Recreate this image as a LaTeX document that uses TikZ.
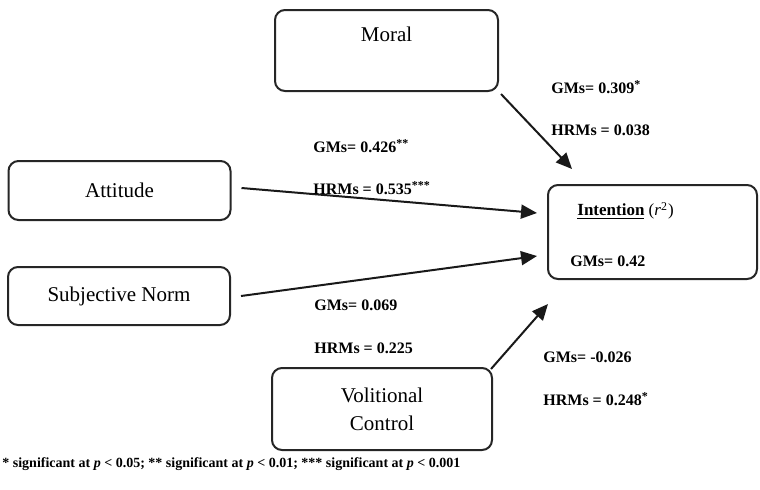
\documentclass[tikz,border=0pt]{standalone}
\usepackage{fontspec}
\setmainfont{Liberation Serif}
\usetikzlibrary{arrows.meta,calc}
\begin{document}
\begin{tikzpicture}[x=0.5pt,y=-0.5pt,
  box/.style={draw=black!85, line width=1pt, rounded corners=5pt, fill=white,
    inner sep=0pt, font=\fontsize{10.5}{14}\selectfont},
  coef/.style={anchor=west, inner sep=0pt, font=\bfseries\fontsize{8}{9}\selectfont},
  link/.style={draw=black!90, line width=1pt, -{Triangle[length=8pt,width=7pt]}},
]
\useasboundingbox (0,0) rectangle (760,489);

% constructs
\node[box, minimum width=111.5pt, anchor=north, inner ysep=8.5pt,
      text height=7pt, text depth=16.5pt] (moral) at (386.5,9) {Moral};
\node[box, minimum width=111pt, minimum height=29.5pt] (att) at (119.5,190.5) {Attitude};
\node[box, minimum width=111pt, minimum height=29pt] (sn) at (119,296) {Subjective Norm};
\node[box, minimum width=110pt, minimum height=41pt, align=center] (vol) at (382,409)
  {Volitional\\Control};
\node[box, minimum width=104.5pt, minimum height=47pt] (int) at (652.5,232) {};

% outcome box contents
\node[anchor=west, inner sep=0pt, font=\fontsize{8.5}{10}\selectfont] (inttitle) at (577,211)
  {\textbf{\underline{Intention}} (\textit{r}\textsuperscript{2})};
\node[coef] (intgm) at (570,261) {GMs= 0.42};

% paths
\draw[link] ($(moral.south east)+(2,2)$) -- ($(int.north west)+(25,-15)$);
\draw[link] ($(att.east)+(10,-2.5)$) -- ($(int.west)+(-10,-19)$);
\draw[link] ($(sn.east)+(10,0)$) -- ($(int.west)+(-10,24)$);
\draw[link] ($(vol.north east)+(-2,2)$) -- ($(int.south west)+(1,24)$);

% path coefficients
\node[coef] (mgm) at (551,87) {GMs= 0.309\textsuperscript{*}};
\node[coef] (mhr) at (551,130) {HRMs = 0.038};
\node[coef] (agm) at (313,146) {GMs= 0.426\textsuperscript{**}};
\node[coef] (ahr) at (313,188) {HRMs = 0.535\textsuperscript{***}};
\node[coef] (sgm) at (314,305) {GMs= 0.069};
\node[coef] (shr) at (314,348) {HRMs = 0.225};
\node[coef] (vgm) at (543,357) {GMs= -0.026};
\node[coef] (vhr) at (543,399) {HRMs = 0.248\textsuperscript{*}};

% significance note
\node[coef, font=\bfseries\fontsize{7}{8}\selectfont] (note) at (2,464)
  {* significant at \textit{p} < 0.05; ** significant at \textit{p} < 0.01; *** significant at \textit{p} < 0.001};
\end{tikzpicture}
\end{document}
